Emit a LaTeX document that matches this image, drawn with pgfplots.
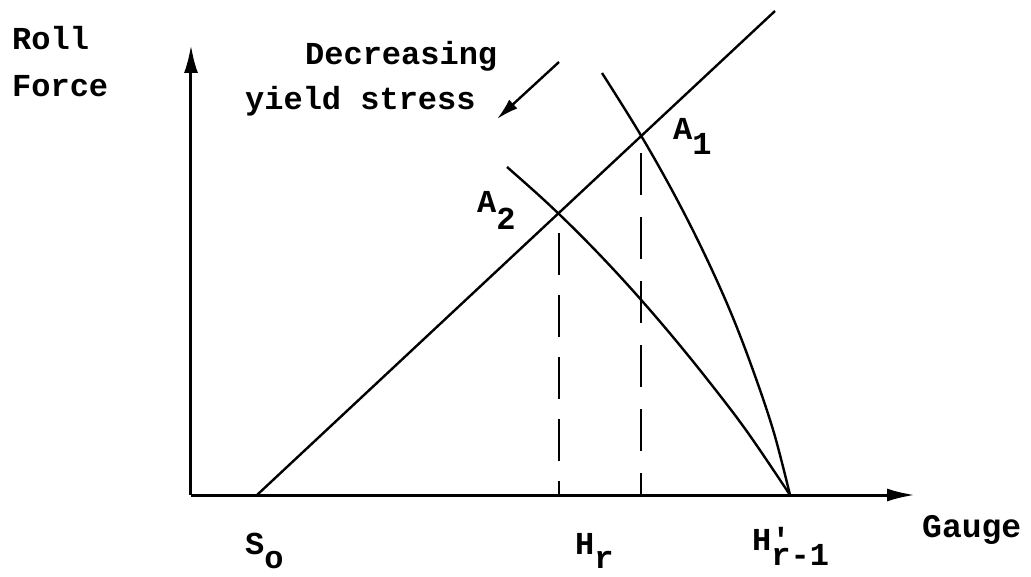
\documentclass[border=0pt]{standalone}
\usepackage{fontspec}
\usepackage{pgfplots}
\pgfplotsset{compat=1.18}
\usetikzlibrary{arrows.meta}
\newfontfamily\tw{Liberation Mono}
\tikzset{lbl/.style={anchor=base west, inner sep=0pt,
    font=\tw\bfseries\fontsize{32}{34}\selectfont}}

\begin{document}
\begin{tikzpicture}
\begin{axis}[
  x=1pt, y=1pt,
  xmin=0, xmax=724, ymin=0, ymax=450,
  axis lines=left,
  ticks=none,
  clip=false,
  axis line style={line width=3pt, black},
  x axis line style={-{Latex[length=28pt,width=13pt]}},
  y axis line style={-{Latex[length=28pt,width=14pt]}},
]
% page frame
\path (axis cs:-191,-81) rectangle (axis cs:840,495);

% mill spring line from S_o
\addplot[black, line width=2.4pt] coordinates {(66,0) (584,484)};

% plastic curve, higher yield stress (through A1)
\addplot[black, line width=2.4pt, smooth, tension=0.6] coordinates {
  (411,422) (448.5,362) (482.5,302) (513,242) (540,182) (563,122) (583,62) (599,0)};

% plastic curve, lower yield stress (through A2)
\addplot[black, line width=2.4pt, smooth, tension=0.6] coordinates {
  (316,328) (356,292.3) (396,253.3) (436,210.9) (476,165.1) (516,116) (556,63.5) (599,0)};

% gauge projections
\addplot[black, line width=2.4pt, dash pattern=on 42pt off 20pt] coordinates {(368,262) (368,0)};
\addplot[black, line width=2.4pt, dash pattern=on 42pt off 22pt] coordinates {(450,342) (450,0)};

% direction of decreasing yield stress
\addplot[black, line width=2.4pt, -{Latex[length=22pt,width=12pt]}] coordinates {(368,433) (306,376)};

% labels
\node[lbl] at (axis cs:-179,445) {Roll};
\node[lbl] at (axis cs:-179,398) {Force};
\node[lbl] at (axis cs:114,430) {Decreasing};
\node[lbl] at (axis cs:54,385) {yield stress};
\node[lbl] at (axis cs:286,282) {A\raisebox{-17pt}{2}};
\node[lbl] at (axis cs:482,355) {A\raisebox{-15pt}{1}};
\node[lbl] at (axis cs:54,-59) {S\raisebox{-14pt}{o}};
\node[lbl] at (axis cs:384,-59) {H\raisebox{-14pt}{r}};
\node[lbl] at (axis cs:561,-55) {H\rlap{'}\raisebox{-15pt}{r-1}};
\node[lbl, font=\tw\bfseries\fontsize{33}{35}\selectfont] at (axis cs:731,-42) {Gauge};
\end{axis}
\end{tikzpicture}
\end{document}
